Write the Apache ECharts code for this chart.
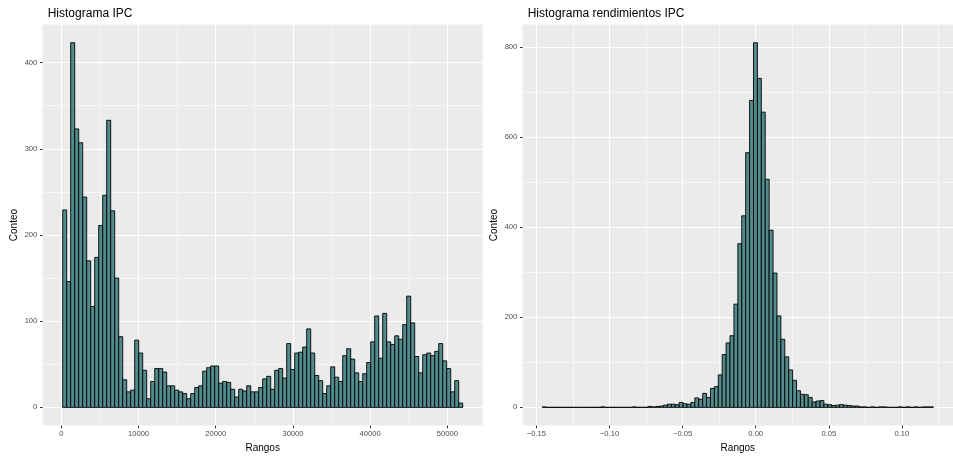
<!DOCTYPE html>
<html>
<head>
<meta charset="utf-8">
<script src="https://cdn.jsdelivr.net/npm/echarts@6/dist/echarts.min.js"></script>
<style>
html,body{margin:0;padding:0;background:#fff;}
#chart{width:953px;height:458px;}
</style>
</head>
<body>
<div id="chart"></div>
<script>
// ---- data ----
const titles = ['Histograma IPC', 'Histograma rendimientos IPC'];
const xTitle = 'Rangos';
const yTitle = 'Conteo';

// left histogram: 100 bins
const ipcBinStart = 181;
const ipcBinWidth = 518;
const ipcCounts = [229,146,423,323,307,244,170,117,174,211,
  246,333,228,150,82,32,18,20,78,63,
  43,10,30,45,45,41,25,25,20,18,
  16,10,16,23,25,42,46,48,48,28,
  30,29,21,12,21,19,25,18,18,23,
  33,36,21,43,45,34,74,44,63,64,
  70,91,63,37,31,16,25,47,35,30,
  60,68,56,40,30,39,52,76,106,57,
  109,76,73,83,79,96,129,98,59,40,
  61,63,60,65,74,54,45,18,31,5];

// right histogram: 100 bins
const retBinStart = -0.1460;
const retBinWidth = 0.002676;
const retCounts = [1,0,0,0,0,0,0,0,0,0,
  0,0,0,0,0,1,0,0,0,0,
  0,0,0,1,0,0,0,2,1,2,
  3,5,7,7,6,11,8,7,11,21,
  18,31,22,42,46,72,117,143,159,229,
  363,425,565,681,809,730,655,506,393,298,
  203,151,112,83,60,37,29,28,22,12,
  14,15,7,6,4,5,6,5,4,3,
  3,1,1,0,1,0,1,1,0,0,
  0,1,0,1,0,1,0,1,1,1];

// ticks
const ipcXTicks = [0,10000,20000,30000,40000,50000];
const ipcXTickLabels = ['0','10000','20000','30000','40000','50000'];
const ipcXMinor = [5000,15000,25000,35000,45000];
const ipcYTicks = [0,100,200,300,400];
const ipcYTickLabels = ['0','100','200','300','400'];
const ipcYMinor = [50,150,250,350];

const retXTicks = [-0.15,-0.1,-0.05,0,0.05,0.1];
const retXTickLabels = ['\u22120.15','\u22120.10','\u22120.05','0.00','0.05','0.10'];
const retXMinor = [-0.125,-0.075,-0.025,0.025,0.075,0.125];
const retYTicks = [0,200,400,600,800];
const retYTickLabels = ['0','200','400','600','800'];
const retYMinor = [100,300,500,700];

// ---- build ----
function binsOf(start, width, counts){
  return counts.map((c,i)=>[start+i*width, start+(i+1)*width, c]);
}
function expand(lo, hi){ const d=(hi-lo)*0.05; return [lo-d, hi+d]; }

const ipcData = binsOf(ipcBinStart, ipcBinWidth, ipcCounts);
const retData = binsOf(retBinStart, retBinWidth, retCounts);
const ipcXR = expand(ipcBinStart, ipcBinStart+ipcBinWidth*ipcCounts.length);
const retXR = expand(retBinStart, retBinStart+retBinWidth*retCounts.length);
const ipcYR = expand(0, Math.max(...ipcCounts));
const retYR = expand(0, Math.max(...retCounts));

const FONT = 'Liberation Sans, Arial, Helvetica, sans-serif';

function labelMap(vals, labs){
  return function(v){
    for(let i=0;i<vals.length;i++){ if(Math.abs(vals[i]-v) < 1e-9*Math.max(1,Math.abs(vals[i]))+1e-12) return labs[i]; }
    return '';
  };
}

function majorX(grid, range, ticks, labs){
  return {
    type:'value', gridIndex:grid, min:range[0], max:range[1], position:'bottom',
    name:xTitle, nameLocation:'middle', nameGap:14.5,
    nameTextStyle:{fontFamily:FONT, fontSize:10, color:'#000'},
    axisLine:{show:false, onZero:false},
    axisTick:{show:true, length:2.7, customValues:ticks, lineStyle:{color:'#333333', width:1}},
    axisLabel:{show:true, customValues:ticks, formatter:labelMap(ticks,labs), margin:4.5,
      fontFamily:FONT, fontSize:7.6, color:'#4D4D4D'},
    splitLine:{show:true, lineStyle:{color:'#FFFFFF', width:1.1}},
    z:1
  };
}
function minorX(grid, range, ticks){
  return {
    type:'value', gridIndex:grid, min:range[0], max:range[1], position:'bottom',
    axisLine:{show:false, onZero:false},
    axisTick:{show:false, customValues:ticks},
    axisLabel:{show:false},
    splitLine:{show:true, lineStyle:{color:'#FFFFFF', width:0.55}},
    z:0
  };
}
function majorY(grid, range, ticks, labs){
  return {
    type:'value', gridIndex:grid, min:range[0], max:range[1], position:'left',
    name:yTitle, nameLocation:'middle', nameGap:23, nameRotate:90,
    nameTextStyle:{fontFamily:FONT, fontSize:10, color:'#000'},
    axisLine:{show:false, onZero:false},
    axisTick:{show:true, length:2.7, customValues:ticks, lineStyle:{color:'#333333', width:1}},
    axisLabel:{show:true, customValues:ticks, formatter:labelMap(ticks,labs), margin:5.4,
      fontFamily:FONT, fontSize:7.6, color:'#4D4D4D'},
    splitLine:{show:true, lineStyle:{color:'#FFFFFF', width:1.1}},
    z:1
  };
}
function minorY(grid, range, ticks){
  return {
    type:'value', gridIndex:grid, min:range[0], max:range[1], position:'left',
    axisLine:{show:false, onZero:false},
    axisTick:{show:false, customValues:ticks},
    axisLabel:{show:false},
    splitLine:{show:true, lineStyle:{color:'#FFFFFF', width:0.55}},
    z:0
  };
}

function renderBar(params, api){
  const p0 = api.coord([api.value(0), api.value(2)]);
  const p1 = api.coord([api.value(1), 0]);
  return {
    type:'rect',
    shape:{x:p0[0], y:p0[1], width:p1[0]-p0[0], height:p1[1]-p0[1]},
    style:{fill:'#528B8B', stroke:'#000000', lineWidth:0.9}
  };
}

const chart = echarts.init(document.getElementById('chart'), null, {renderer:'canvas'});
chart.setOption({
  animation:false,
  backgroundColor:'#FFFFFF',
  title:[
    {text:titles[0], left:42.7, top:3, textStyle:{fontFamily:FONT, fontSize:12, fontWeight:'normal', color:'#000'}},
    {text:titles[1], left:522.7, top:3, textStyle:{fontFamily:FONT, fontSize:12, fontWeight:'normal', color:'#000'}}
  ],
  grid:[
    {left:42.7, width:440, top:24.5, height:406, show:true, backgroundColor:'#EBEBEB', borderWidth:0, containLabel:false},
    {left:522.7, width:440, top:24.5, height:406, show:true, backgroundColor:'#EBEBEB', borderWidth:0, containLabel:false}
  ],
  xAxis:[
    majorX(0, ipcXR, ipcXTicks, ipcXTickLabels),
    minorX(0, ipcXR, ipcXMinor),
    majorX(1, retXR, retXTicks, retXTickLabels),
    minorX(1, retXR, retXMinor)
  ],
  yAxis:[
    majorY(0, ipcYR, ipcYTicks, ipcYTickLabels),
    minorY(0, ipcYR, ipcYMinor),
    majorY(1, retYR, retYTicks, retYTickLabels),
    minorY(1, retYR, retYMinor)
  ],
  series:[
    {type:'custom', xAxisIndex:0, yAxisIndex:0, data:ipcData, renderItem:renderBar, encode:{x:[0,1], y:2}, z:5},
    {type:'custom', xAxisIndex:2, yAxisIndex:2, data:retData, renderItem:renderBar, encode:{x:[0,1], y:2}, z:5}
  ]
});
</script>
</body>
</html>
